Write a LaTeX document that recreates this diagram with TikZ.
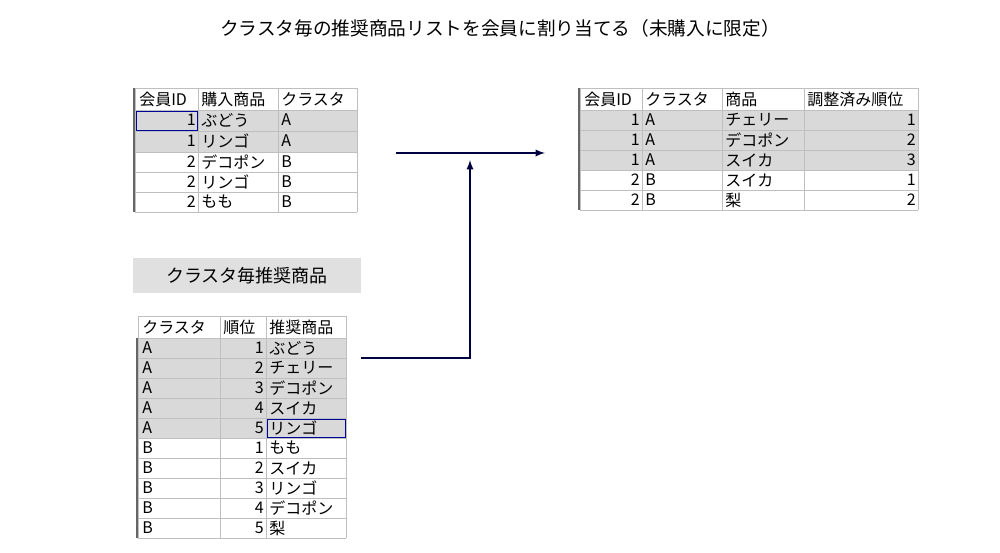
\documentclass[tikz,border=0pt]{standalone}
\usepackage{fontspec}
\setmainfont{Noto Sans CJK JP}
\begin{document}
\begin{tikzpicture}[x=0.75pt,y=-0.75pt,
  grid/.style={draw=black!25,line width=0.6pt},
  hl/.style={fill=black!15},
  txt/.style={inner sep=1.5pt,font=\fontsize{12}{13}\selectfont},
  lt/.style={txt,anchor=west},
  rt/.style={txt,anchor=east},
  conn/.style={draw=blue!25!black,line width=1.4pt,-latex},
  seg/.style={draw=blue!25!black,line width=1.4pt}]
\useasboundingbox (0,0) rectangle (1000,553);
\node[font=\fontsize{14}{16}\selectfont] (title) at (500,28) {クラスタ毎の推奨商品リストを会員に割り当てる（未購入に限定）};
% ---- table 1
\fill[hl] (135,110) rectangle (357,152);
\foreach \y in {88,110,131,152,172,192,212} \draw[grid] (135,\y)--(357,\y);
\foreach \x in {135,198,278,357} \draw[grid] (\x,88)--(\x,212);
\draw[black!60,line width=1pt] (134,88)--(134,212);
\draw[blue!60!black,line width=0.7pt] (136,111) rectangle (197,130);
\node[lt] (a0) at (137,99) {会員ID};
\node[lt] (a1) at (199,99) {購入商品};
\node[lt] (a2) at (279,99) {クラスタ};
\foreach \i/\y/\n/\p/\c in {1/120/1/ぶどう/A,2/141/1/リンゴ/A,3/162/2/デコポン/B,4/182/2/リンゴ/B,5/202/2/もも/B}{
  \node[rt] (a\i n) at (198,\y) {\n};
  \node[lt] (a\i p) at (199,\y) {\p};
  \node[lt] (a\i c) at (279,\y) {\c};
}
% ---- label
\node[fill=black!12,minimum width=171pt,minimum height=26pt,font=\fontsize{13.5}{15}\selectfont,inner sep=0pt] (lab) at (247,275.5) {クラスタ毎推奨商品};
% ---- table 2
\fill[hl] (138,338) rectangle (346,438);
\foreach \y in {316,338,358,378,398,418,438,458,478,498,518,538} \draw[grid] (138,\y)--(346,\y);
\foreach \x in {138,220,266,346} \draw[grid] (\x,316)--(\x,538);
\draw[black!60,line width=1pt] (137,338)--(137,538);
\draw[blue!60!black,line width=0.7pt] (267,419) rectangle (345,437);
\node[lt] (b0) at (140,327) {クラスタ};
\node[lt] (b1) at (221,327) {順位};
\node[lt] (b2) at (267,327) {推奨商品};
\foreach \i/\y/\c/\n/\p in {1/348/A/1/ぶどう,2/368/A/2/チェリー,3/388/A/3/デコポン,4/408/A/4/スイカ,5/428/A/5/リンゴ,6/448/B/1/もも,7/468/B/2/スイカ,8/488/B/3/リンゴ,9/508/B/4/デコポン,10/528/B/5/梨}{
  \node[lt] (b\i c) at (140,\y) {\c};
  \node[rt] (b\i n) at (266,\y) {\n};
  \node[lt] (b\i p) at (267,\y) {\p};
}
% ---- table 3
\fill[hl] (580,110) rectangle (918,170);
\foreach \y in {88,110,130,150,170,190,210} \draw[grid] (580,\y)--(918,\y);
\foreach \x in {580,642,722,804,918} \draw[grid] (\x,88)--(\x,210);
\draw[black!60,line width=1pt] (579,88)--(579,210);
\node[lt] (c0) at (582,99) {会員ID};
\node[lt] (c1) at (643,99) {クラスタ};
\node[lt] (c2) at (723,99) {商品};
\node[lt] (c3) at (805,99) {調整済み順位};
\foreach \i/\y/\m/\c/\p/\r in {1/120/1/A/チェリー/1,2/140/1/A/デコポン/2,3/160/1/A/スイカ/3,4/180/2/B/スイカ/1,5/200/2/B/梨/2}{
  \node[rt] (c\i m) at (642,\y) {\m};
  \node[lt] (c\i c) at (643,\y) {\c};
  \node[lt] (c\i p) at (723,\y) {\p};
  \node[rt] (c\i r) at (918,\y) {\r};
}
% ---- connectors
\coordinate (hs) at (396,153);
\coordinate (he) at (545,153);
\coordinate (vs) at (361,358);
\coordinate (vc) at (470,358);
\coordinate (ve) at (470,160);
\draw[conn] (hs)--(he);
\draw[conn] (vs)--(vc)--(ve);
\end{tikzpicture}
\end{document}
